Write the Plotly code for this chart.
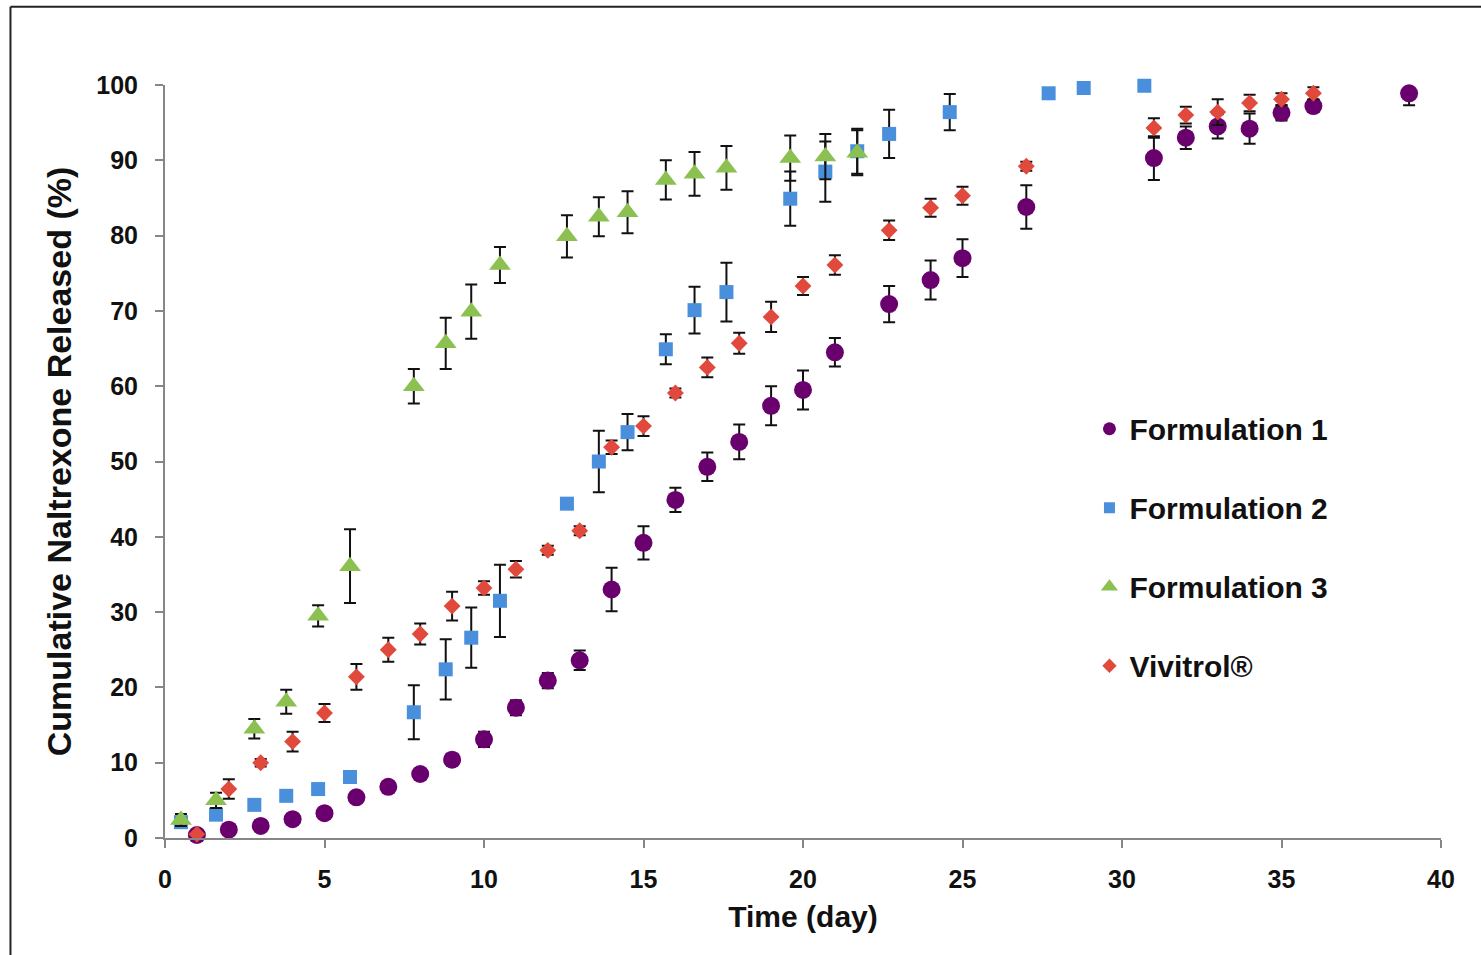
import plotly.graph_objects as go

# Release time points (days)
days_f1 = [1, 2, 3, 4, 5, 6, 7, 8, 9, 10, 11, 12, 13, 14, 15, 16, 17, 18, 19, 20,
           21, 22.7, 24, 25, 27, 31, 32, 33, 34, 35, 36, 39]
days_f23 = [0.5, 1.6, 2.8, 3.8, 4.8, 5.8, 7.8, 8.8, 9.6, 10.5, 12.6, 13.6, 14.5, 15.7,
            16.6, 17.6, 19.6, 20.7, 21.7, 22.7, 24.6, 27.7, 28.8, 30.7]
days_viv = days_f1[:-1]

# Cumulative naltrexone released (%) and standard deviations
f1_mean = [0.4, 1.1, 1.6, 2.5, 3.3, 5.4, 6.8, 8.5, 10.4, 13.1, 17.3, 20.9, 23.6, 33.0,
           39.2, 44.9, 49.3, 52.6, 57.4, 59.5, 64.5, 70.9, 74.1, 77.0, 83.8, 90.3,
           93.0, 94.5, 94.2, 96.3, 97.2, 98.9]
f1_sd = [0.3, 0.3, 0.3, 0.4, 0.5, 0.5, 0.6, 0.7, 0.8, 1.0, 1.0, 1.0, 1.3, 2.9, 2.2,
         1.6, 1.9, 2.3, 2.6, 2.6, 1.9, 2.4, 2.6, 2.5, 2.9, 2.9, 1.5, 1.6, 2.0, 1.0,
         0.8, 1.6]

f2_mean = [2.1, 3.1, 4.4, 5.6, 6.5, 8.1, 16.7, 22.4, 26.6, 31.5, 44.4, 50.0, 53.9,
           64.9, 70.1, 72.5, 84.9, 88.5, 91.2, 93.5, 96.4, 98.9, 99.6, 99.9]
f2_sd = [0.3, 0.3, 0.4, 0.4, 0.5, 0.6, 3.6, 4.0, 4.0, 4.8, 0.5, 4.1, 2.4, 2.0, 3.1,
         3.9, 3.6, 4.0, 3.0, 3.2, 2.4, 0.4, 0.4, 0.4]

f3_mean = [2.4, 5.0, 14.5, 18.1, 29.5, 36.1, 60.0, 65.7, 69.9, 76.1, 79.9, 82.5,
           83.1, 87.4, 88.2, 89.0, 90.3, 90.5, 91.0]
f3_sd = [0.8, 1.0, 1.3, 1.6, 1.4, 4.9, 2.3, 3.4, 3.6, 2.4, 2.8, 2.6, 2.8, 2.6, 2.9,
         2.9, 3.0, 3.0, 3.0]

viv_mean = [0.5, 6.5, 10.0, 12.8, 16.6, 21.4, 25.0, 27.1, 30.8, 33.2, 35.7, 38.2,
            40.8, 51.9, 54.7, 59.1, 62.5, 65.7, 69.2, 73.3, 76.1, 80.7, 83.7, 85.3,
            89.2, 94.3, 96.0, 96.4, 97.6, 98.1, 98.9]
viv_sd = [0.3, 1.3, 0.5, 1.3, 1.2, 1.7, 1.6, 1.4, 1.9, 0.9, 1.1, 0.6, 0.6, 0.9, 1.3,
          0.6, 1.3, 1.4, 2.0, 1.2, 1.3, 1.3, 1.2, 1.2, 0.6, 1.3, 1.1, 1.7, 1.1, 0.8,
          0.8]

series_names = ["Formulation 1", "Formulation 2", "Formulation 3", "Vivitrol®"]
x_ticks = [0, 5, 10, 15, 20, 25, 30, 35, 40]
y_ticks = [0, 10, 20, 30, 40, 50, 60, 70, 80, 90, 100]

FONT = "Liberation Sans, Arial, sans-serif"
AXIS_GRAY = "#868686"

styles = [
    dict(color="#6a006e", symbol="circle", size=18, legend_size=13),
    dict(color="#4a8fdc", symbol="square", size=14, legend_size=11),
    dict(color="#8cc152", symbol="triangle-up", size=19, legend_size=15),
    dict(color="#e0493b", symbol="diamond", size=13, legend_size=11),
]
data = [
    (days_f1, f1_mean, f1_sd),
    (days_f23[:len(f2_mean)], f2_mean, f2_sd),
    (days_f23[:len(f3_mean)], f3_mean, f3_sd),
    (days_viv, viv_mean, viv_sd),
]

fig = go.Figure()

for name, st, (x, y, sd) in zip(series_names, styles, data):
    fig.add_trace(go.Scatter(
        x=x, y=y, mode="markers", name=name, showlegend=False, cliponaxis=False,
        marker=dict(color=st["color"], symbol=st["symbol"], size=st["size"],
                    line=dict(width=0)),
        error_y=dict(type="data", array=sd, visible=True, color="#111111",
                     thickness=2, width=6),
    ))

# Legend entries with compact symbols
for name, st in zip(series_names, styles):
    fig.add_trace(go.Scatter(
        x=[None], y=[None], mode="markers", name=name, legendgroup=name,
        marker=dict(color=st["color"], symbol=st["symbol"], size=st["legend_size"]),
    ))

fig.update_layout(
    width=1481, height=955,
    margin=dict(l=165, r=40, t=85, b=117),
    paper_bgcolor="white", plot_bgcolor="white",
    font=dict(family=FONT, color="#111111"),
    showlegend=True,
    legend=dict(
        x=0.7245, y=0.578, xanchor="left", yanchor="top",
        font=dict(family=FONT, size=30, weight="bold", color="#111111"),
        tracegroupgap=37, itemsizing="trace", bgcolor="rgba(0,0,0,0)",
    ),
    xaxis=dict(
        range=[0, 40], tickvals=x_ticks, showgrid=False, zeroline=False,
        showline=True, linecolor=AXIS_GRAY, linewidth=2,
        ticks="outside", ticklen=8, tickwidth=2, tickcolor=AXIS_GRAY,
        tickfont=dict(family=FONT, size=25, weight="bold", color="#111111"),
        ticklabelstandoff=10,
        title=dict(text="Time (day)", standoff=14,
                   font=dict(family=FONT, size=30, weight="bold", color="#111111")),
    ),
    yaxis=dict(
        range=[0, 100], tickvals=y_ticks, showgrid=False, zeroline=False,
        showline=True, linecolor=AXIS_GRAY, linewidth=2,
        ticks="outside", ticklen=8, tickwidth=2, tickcolor=AXIS_GRAY,
        tickfont=dict(family=FONT, size=25, weight="bold", color="#111111"),
        ticklabelstandoff=12,
        title=dict(text="Cumulative Naltrexone Released (%)", standoff=14,
                   font=dict(family=FONT, size=34, weight="bold", color="#111111")),
    ),
    shapes=[
        # outer frame (left and top edges)
        dict(type="line", xref="paper", yref="paper",
             x0=-0.1211, x1=-0.1211, y0=1.104, y1=-0.2,
             line=dict(color="#222222", width=2)),
        dict(type="line", xref="paper", yref="paper",
             x0=-0.1211, x1=1.05, y0=1.104, y1=1.104,
             line=dict(color="#222222", width=2)),
    ],
)

fig.write_html("out.html")
